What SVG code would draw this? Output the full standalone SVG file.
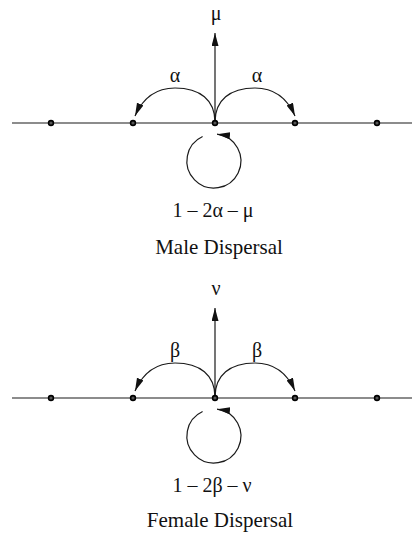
<svg xmlns="http://www.w3.org/2000/svg" width="420" height="535" viewBox="0 0 420 535">
<defs>
<style>
.ln{stroke:#1a1a1a;stroke-width:1.2;fill:none}
.node{fill:#555;stroke:#000;stroke-width:1.6}
.t{font-family:"Liberation Serif","DejaVu Serif",serif;fill:#111;text-anchor:middle}
.g{font-size:20px}
.f{font-size:21px}
</style>
<marker id="ah" markerUnits="userSpaceOnUse" markerWidth="14" markerHeight="10" refX="13" refY="3.5" orient="auto">
<path d="M0,0 L13,3.5 L0,7 z" fill="#111"/>
</marker>
</defs>
<rect width="420" height="535" fill="#fff"/>

<g id="connectors">
<path class="ln" d="M215,122 L215,33" marker-end="url(#ah)"/>
<path class="ln" d="M215,122 C215,100 200,88 175,88 C155,88 142,100 135,116" marker-end="url(#ah)"/>
<path class="ln" d="M215,122 C215,100 230,88 255,88 C275,88 288,100 295,116" marker-end="url(#ah)"/>
<path class="ln" d="M202.6,136.5 A27,27 0 1 0 217,134.2" marker-end="url(#ah)"/>
<path class="ln" d="M215,397 L215,308" marker-end="url(#ah)"/>
<path class="ln" d="M215,397 C215,375 200,363 175,363 C155,363 142,375 135,391" marker-end="url(#ah)"/>
<path class="ln" d="M215,397 C215,375 230,363 255,363 C275,363 288,375 295,391" marker-end="url(#ah)"/>
<path class="ln" d="M202.6,411.5 A27,27 0 1 0 217,409.2" marker-end="url(#ah)"/>
</g>

<g id="male">
<line class="ln" x1="12" y1="123" x2="412" y2="123"/>
<g id="m-n1"><circle class="node" cx="51" cy="123" r="2.4"/></g>
<g id="m-n2"><circle class="node" cx="133" cy="123" r="2.4"/></g>
<g id="m-n3"><circle class="node" cx="215" cy="123" r="2.4"/></g>
<g id="m-n4"><circle class="node" cx="295" cy="123" r="2.4"/></g>
<g id="m-n5"><circle class="node" cx="377" cy="123" r="2.4"/></g>
<text class="t g" x="216" y="20">μ</text>
<text class="t g" x="175" y="82">α</text>
<text class="t g" x="257" y="82">α</text>
<text class="t g" x="213" y="217">1 – 2α – μ</text>
<text class="t f" x="219" y="254">Male Dispersal</text>
</g>

<g id="female">
<line class="ln" x1="12" y1="398" x2="412" y2="398"/>
<g id="f-n1"><circle class="node" cx="51" cy="398" r="2.4"/></g>
<g id="f-n2"><circle class="node" cx="133" cy="398" r="2.4"/></g>
<g id="f-n3"><circle class="node" cx="215" cy="398" r="2.4"/></g>
<g id="f-n4"><circle class="node" cx="295" cy="398" r="2.4"/></g>
<g id="f-n5"><circle class="node" cx="377" cy="398" r="2.4"/></g>
<text class="t g" x="216" y="295">ν</text>
<text class="t g" x="175" y="357">β</text>
<text class="t g" x="257" y="357">β</text>
<text class="t g" x="212" y="492">1 – 2β – ν</text>
<text class="t f" x="220" y="527">Female Dispersal</text>
</g>
</svg>
